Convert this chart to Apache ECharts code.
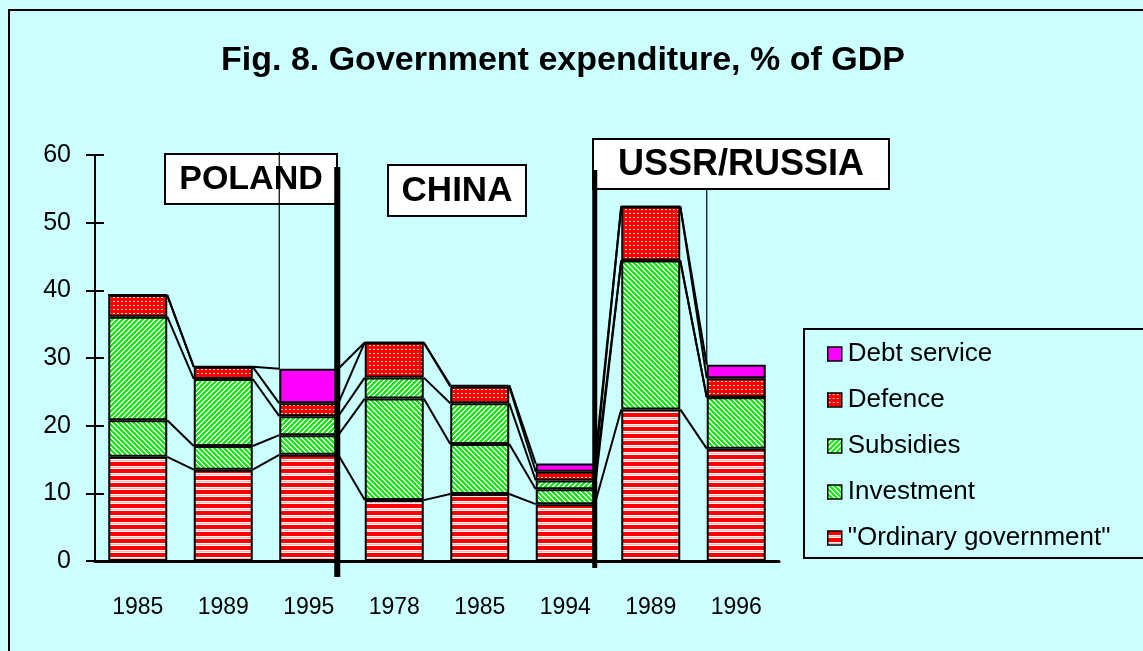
<!DOCTYPE html>
<html>
<head>
<meta charset="utf-8">
<script src="https://cdn.jsdelivr.net/npm/echarts@6/dist/echarts.min.js"></script>
<style>
  html, body { margin: 0; padding: 0; background: #ccffff; }
  #chart { width: 1143px; height: 651px; }
</style>
</head>
<body>
<div id="chart"></div>
<script>
// years on the x axis (three country groups)
const years = ["1985", "1989", "1995", "1978", "1985", "1994", "1989", "1996"];
const groups = ["POLAND", "CHINA", "USSR/RUSSIA"];

// % of GDP
const ordinary = [15.4, 13.5, 15.7, 9.0, 9.9, 8.4, 22.4, 16.6];
const investment = [5.4, 3.5, 2.9, 15.0, 7.4, 2.2, 22.0, 7.6];
const subsidies = [15.3, 9.9, 2.8, 3.1, 6.0, 1.3, 0, 0];
const defence = [3.2, 1.8, 1.9, 5.2, 2.5, 1.3, 8.0, 2.8];
const debt = [0, 0, 5.1, 0, 0.2, 1.2, 0, 2.0];

const font = "Arial, 'Liberation Sans', sans-serif";

// small canvas patterns, like the old Excel fills
function pattern(w, h, paint) {
    const c = document.createElement("canvas");
    c.width = w;
    c.height = h;
    const ctx = c.getContext("2d");
    for (let y = 0; y < h; y++) {
        for (let x = 0; x < w; x++) {
            ctx.fillStyle = paint(x, y);
            ctx.fillRect(x, y, 1, 1);
        }
    }
    return { image: c, repeat: "repeat" };
}

const green = "#00f000";
const fills = {
    ordinary: pattern(4, 7, (x, y) => (y < 4 ? "#ff0000" : y === 5 ? "#ffb4b4" : "#ffffff")),
    investment: pattern(5, 5, (x, y) => ((((x - y) % 5) + 5) % 5 < 3 ? green : "#ffffff")),
    subsidies: pattern(5, 5, (x, y) => ((x + y) % 5 < 3 ? green : "#ffffff")),
    defence: pattern(4, 4, (x, y) => (x === 1 && y === 1 ? "#ffffff" : (x === 2 && y === 1 ? "#ffc0c0" : "#ff0000"))),
    debt: "#ff00ff",
};

const layers = [
    { name: "\"Ordinary government\"", data: ordinary, fill: fills.ordinary },
    { name: "Investment", data: investment, fill: fills.investment },
    { name: "Subsidies", data: subsidies, fill: fills.subsidies },
    { name: "Defence", data: defence, fill: fills.defence },
    { name: "Debt service", data: debt, fill: fills.debt },
];

const barRatio = 0.69;

// cumulative tops for the series lines between bars
let running = years.map(() => 0);
const tops = layers.map((l) => {
    running = running.map((v, i) => v + l.data[i]);
    return running.slice();
});

const barSeries = layers.map((l) => ({
    name: l.name,
    type: "bar",
    stack: "total",
    barWidth: barRatio * 100 + "%",
    data: l.data,
    itemStyle: { color: l.fill, borderColor: "#000", borderWidth: 2 },
    emphasis: { disabled: true },
    z: 4,
}));

const lineSeries = tops.map((t, k) => ({
    name: "line" + k,
    type: "custom",
    data: years.slice(0, -1).map((_, i) => [i, t[i], t[i + 1]]),
    encode: { x: 0, y: 1 },
    renderItem: (params, api) => {
        const i = api.value(0);
        const a = api.coord([i, api.value(1)]);
        const b = api.coord([i + 1, api.value(2)]);
        const half = (api.size([1, 0])[0] * barRatio) / 2;
        return {
            type: "line",
            shape: { x1: a[0] + half, y1: a[1], x2: b[0] - half, y2: b[1] },
            style: { stroke: "#000", lineWidth: 2 },
        };
    },
    silent: true,
    z: 3,
}));

const chart = echarts.init(document.getElementById("chart"));

chart.setOption({
    backgroundColor: "#ccffff",
    animation: false,
    title: {
        text: "Fig. 8. Government expenditure, % of GDP",
        left: 216,
        top: 39,
        textStyle: { fontFamily: font, fontSize: 34, fontWeight: "bold", color: "#000" },
    },
    legend: {
        data: ["Debt service", "Defence", "Subsidies", "Investment", "\"Ordinary government\""],
        orient: "vertical",
        left: 804,
        top: 329,
        padding: [12, 80, 7, 23],
        itemGap: 20,
        itemWidth: 14,
        itemHeight: 14,
        icon: "rect",
        itemStyle: { borderColor: "#000", borderWidth: 1.5 },
        borderColor: "#000",
        borderWidth: 2,
        textStyle: { fontFamily: font, fontSize: 26, color: "#000", padding: [0, 0, 0, 1] },
        selectedMode: false,
    },
    grid: { left: 95, right: 364, top: 155, bottom: 90 },
    xAxis: [
        {
            type: "category",
            data: years,
            axisLine: { lineStyle: { color: "#000", width: 3 } },
            axisTick: { length: 8, lineStyle: { color: "#000", width: 2 } },
            axisLabel: { fontFamily: font, fontSize: 23, color: "#000", margin: 35 },
        },
        {
            type: "category",
            data: years,
            position: "bottom",
            axisLine: { show: false },
            axisTick: { inside: true, length: 10, lineStyle: { color: "#000", width: 2 } },
            axisLabel: { show: false },
        },
    ],
    yAxis: [
        {
            type: "value",
            min: 0,
            max: 60,
            interval: 10,
            axisLine: { show: true, lineStyle: { color: "#000", width: 2 } },
            axisTick: { show: true, length: 9, lineStyle: { color: "#000", width: 2 } },
            axisLabel: { fontFamily: font, fontSize: 25, color: "#000", margin: 24 },
            splitLine: { show: false },
        },
        {
            type: "value",
            min: 0,
            max: 60,
            interval: 10,
            position: "left",
            axisLine: { show: false },
            axisTick: { show: true, inside: true, length: 9, lineStyle: { color: "#000", width: 2 } },
            axisLabel: { show: false },
            splitLine: { show: false },
        },
    ],
    series: barSeries.concat(lineSeries),
});

// annotations: group separators, country boxes and their leader lines
const px = (i, v) => chart.convertToPixel({ gridIndex: 0 }, [i, v]);
const band = px(1, 0)[0] - px(0, 0)[0];
const half = (band * barRatio) / 2;
const axisY = px(0, 0)[1];

function box(x, y, w, h, text, size) {
    return {
        type: "group",
        z: 20,
        children: [
            { type: "rect", shape: { x: x, y: y, width: w, height: h }, style: { fill: "#fff", stroke: "#000", lineWidth: 2 } },
            {
                type: "text",
                x: x + w / 2,
                y: y + h / 2 + 1,
                style: {
                    text: text, fill: "#000", font: "bold " + size + "px " + font,
                    align: "center", verticalAlign: "middle",
                },
            },
        ],
    };
}

const sep1 = px(2, 0)[0] + half - 1;
const sep2 = px(5, 0)[0] + half;
const total = (i) => tops[tops.length - 1][i];

chart.setOption({
    graphic: [
        { type: "rect", z: 30, shape: { x: 9, y: 10, width: 1300, height: 800 }, style: { fill: null, stroke: "#000", lineWidth: 2 } },
        { type: "line", z: 15, shape: { x1: sep1, y1: 167, x2: sep1, y2: axisY + 16 }, style: { stroke: "#000", lineWidth: 6 } },
        { type: "line", z: 15, shape: { x1: sep2, y1: 170, x2: sep2, y2: axisY + 7 }, style: { stroke: "#000", lineWidth: 5 } },
        { type: "line", z: 15, shape: { x1: px(2, 0)[0] - half, y1: 152, x2: px(2, 0)[0] - half, y2: px(2, total(2))[1] }, style: { stroke: "#000", lineWidth: 1.2 } },
        { type: "line", z: 15, shape: { x1: px(7, 0)[0] - half, y1: 189, x2: px(7, 0)[0] - half, y2: px(7, total(7))[1] }, style: { stroke: "#000", lineWidth: 1.2 } },
        box(165, 154, 172, 50, groups[0], 34),
        box(388, 165, 138, 51, groups[1], 35),
        box(593, 139, 296, 50, groups[2], 36),
    ],
});
</script>
</body>
</html>
